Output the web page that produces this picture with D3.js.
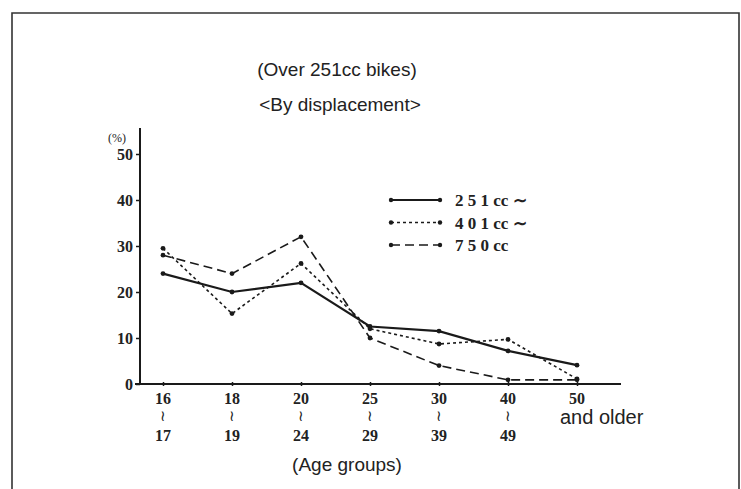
<!DOCTYPE html>
<html><head><meta charset="utf-8">
<script src="https://cdn.jsdelivr.net/npm/d3@7"></script>
<style>body{margin:0;background:#fff}svg{display:block}</style>
</head><body>
<svg id="c" width="741" height="489"></svg>
<script>
const categories = ["16-17","18-19","20-24","25-29","30-39","40-49","50+"];
const tickTop = ["16","18","20","25","30","40","50"];
const tickBottom = ["17","19","24","29","39","49",""];
const s251 = [24, 20, 22, 12.5, 11.5, 7.2, 4.1];
const s401 = [29.5, 15.3, 26.2, 12, 8.7, 9.7, 1.1];
const s750 = [28, 24, 32, 10, 4, 0.9, 0.9];
const seriesNames = ["2 5 1 cc ∼","4 0 1 cc ∼","7 5 0 cc"];
const yTicks = [0,10,20,30,40,50];

const svg = d3.select("#c");
const ink = "#1a1a1a";
const txt = "#222";
// frame
svg.append("path").attr("d","M12,520 L12,13 L739,13 L739,520").attr("fill","none").attr("stroke","#333").attr("stroke-width",1.6);

const x = d3.scalePoint().domain(categories).range([163,577]);
const y = d3.scaleLinear().domain([0,50]).range([384,154]);

// axes
svg.append("line").attr("x1",140).attr("x2",140).attr("y1",128).attr("y2",385).attr("stroke",ink).attr("stroke-width",2);
svg.append("line").attr("x1",135).attr("x2",621).attr("y1",y(0)).attr("y2",y(0)).attr("stroke",ink).attr("stroke-width",2);

const yAxis = d3.axisLeft(y).tickValues(yTicks).tickSize(4).tickPadding(3);
const gy = svg.append("g").attr("transform","translate(140,0)").call(yAxis);
gy.select(".domain").remove();
gy.selectAll("line").attr("stroke",ink).attr("stroke-width",1.5);
gy.selectAll("text").attr("font-family","Liberation Serif").attr("font-size",16).attr("font-weight","bold").attr("fill",txt);

const xAxis = d3.axisBottom(x).tickSize(4).tickFormat(()=>"");
const gx = svg.append("g").attr("transform",`translate(0,${y(0)-2})`).call(xAxis);
gx.select(".domain").remove();
gx.selectAll("line").attr("stroke",ink).attr("stroke-width",1.5);

const lab = svg.append("g").attr("font-family","Liberation Serif").attr("font-size",16).attr("font-weight","bold").attr("fill",txt).attr("text-anchor","middle");
categories.forEach((c,i)=>{
  lab.append("text").attr("x",x(c)).attr("y",404).text(tickTop[i]);
  if(tickBottom[i]){
    lab.append("text").attr("x",x(c)).attr("y",421).attr("font-size",15).attr("font-weight","normal").text("≀");
    lab.append("text").attr("x",x(c)).attr("y",441).text(tickBottom[i]);
  }
});
svg.append("text").attr("x",560).attr("y",424).attr("font-family","Liberation Sans").attr("font-size",20).attr("fill",txt).text("and older");
svg.append("text").attr("x",347).attr("y",471).attr("text-anchor","middle").attr("font-family","Liberation Sans").attr("font-size",19).attr("fill",txt).text("(Age groups)");
svg.append("text").attr("x",108).attr("y",142).attr("font-family","Liberation Serif").attr("font-size",12).attr("fill",txt).text("(%)");

// titles
svg.append("text").attr("x",337).attr("y",76).attr("text-anchor","middle").attr("font-family","Liberation Sans").attr("font-size",19).attr("fill",txt).text("(Over 251cc bikes)");
svg.append("text").attr("x",340).attr("y",111).attr("text-anchor","middle").attr("font-family","Liberation Sans").attr("font-size",19).attr("fill",txt).text("<By displacement>");

const styles = [
  {data:s251, w:2.2, dash:null},
  {data:s401, w:1.6, dash:"3,3"},
  {data:s750, w:1.6, dash:"9,5"}
];
const line = d3.line().x((d,i)=>x(categories[i])).y(d=>y(d));
styles.forEach(s=>{
  svg.append("path").datum(s.data).attr("d",line).attr("fill","none").attr("stroke",ink).attr("stroke-width",s.w).attr("stroke-dasharray",s.dash);
  svg.selectAll(null).data(s.data).enter().append("circle").attr("cx",(d,i)=>x(categories[i])).attr("cy",d=>y(d)).attr("r",2.4).attr("fill",ink);
});

// legend
const lg = svg.append("g");
styles.forEach((s,i)=>{
  const ly = 200 + i*22.5;
  lg.append("line").attr("x1",391).attr("x2",440).attr("y1",ly).attr("y2",ly).attr("stroke",ink).attr("stroke-width",s.w).attr("stroke-dasharray",s.dash);
  lg.append("circle").attr("cx",391).attr("cy",ly).attr("r",2.2).attr("fill",ink);
  lg.append("circle").attr("cx",440).attr("cy",ly).attr("r",2.2).attr("fill",ink);
  lg.append("text").attr("x",455).attr("y",ly+6).attr("font-family","Liberation Serif").attr("font-size",17).attr("font-weight","bold").attr("fill",txt).text(seriesNames[i]);
});
</script>
</body></html>
